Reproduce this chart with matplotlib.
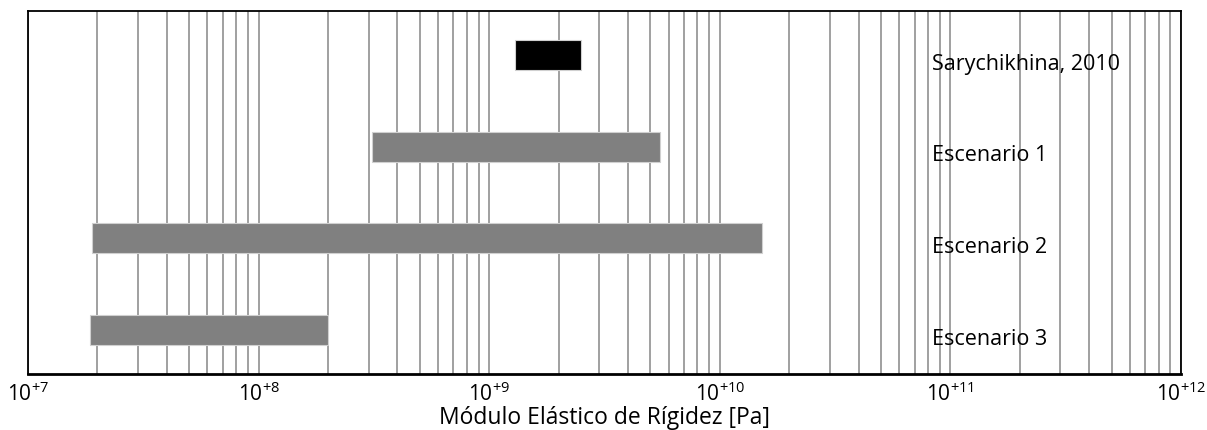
import numpy as np
import matplotlib
matplotlib.use("Agg")
import matplotlib.pyplot as plt
from matplotlib.ticker import FixedLocator, LogLocator, NullFormatter

plt.rcParams["font.family"] = ["Open Sans", "DejaVu Sans"]
plt.rcParams["mathtext.default"] = "regular"

# bar data: each row spans from start to end (Pa)
labels = ["Sarychikhina, 2010", "Escenario 1", "Escenario 2", "Escenario 3"]
starts = [1.3e9, 3.1e8, 1.9e7, 1.85e7]
ends = [2.5e9, 5.5e9, 1.52e10, 2.0e8]
colors = ["black", "#808080", "#808080", "#808080"]
decades = [7, 8, 9, 10, 11, 12]
label_x = 8.3e10

fig = plt.figure(figsize=(12.07, 4.31), dpi=100)
ax = fig.add_axes([0.0232, 0.130, 0.9553, 0.842])

ax.set_xscale("log")
ax.set_xlim(1e7, 1e12)
ax.set_ylim(3.48, -0.48)

ypos = np.arange(len(labels))
widths = [e - s for s, e in zip(starts, ends)]
ax.barh(ypos, widths, left=starts, height=0.33, color=colors,
        edgecolor="#d0d0d0", linewidth=0.8, zorder=3)

for y, lab in zip(ypos, labels):
    ax.text(label_x, y + 0.09, lab, fontsize=15.5, va="center", ha="left", zorder=4)

major = [10.0 ** d for d in decades]
ax.xaxis.set_major_locator(FixedLocator(major))
ax.set_xticklabels([r"$10^{+%d}$" % d for d in decades], fontsize=15)
ax.xaxis.set_minor_locator(LogLocator(base=10, subs=np.arange(2, 10), numticks=20))
ax.xaxis.set_minor_formatter(NullFormatter())
ax.grid(True, which="both", axis="x", color="#a0a0a0", linewidth=1.4, zorder=0)
ax.set_axisbelow(True)
ax.tick_params(axis="x", which="both", length=0, pad=5)
ax.set_yticks([])

for s in ax.spines.values():
    s.set_color("black")
    s.set_linewidth(1.3)
ax.spines["bottom"].set_linewidth(2)

ax.set_xlabel("Módulo Elástico de Rígidez [Pa]", fontsize=16.5, labelpad=0)

fig.savefig("out.png", dpi=100)
